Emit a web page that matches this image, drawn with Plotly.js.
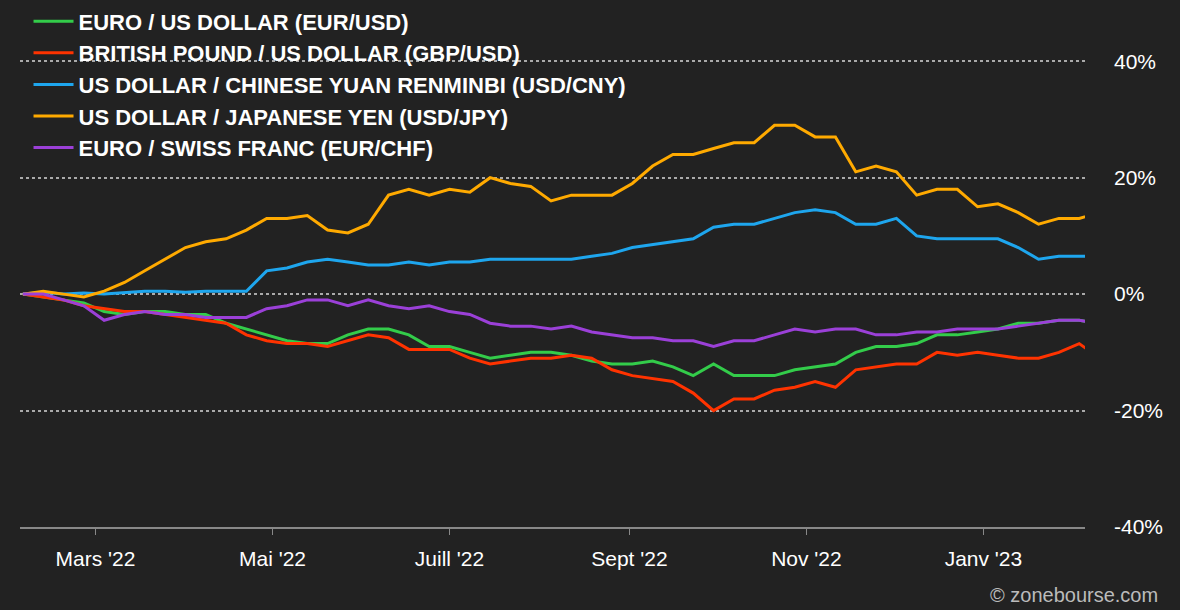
<!DOCTYPE html>
<html><head><meta charset="utf-8">
<script src="https://cdn.plot.ly/plotly-3.0.1.min.js"></script>
<style>body{margin:0;background:#222222}</style>
</head><body><div id="c" style="width:1180px;height:610px"></div>
<script>
const startDate = "2022-02-04";
const seriesNames = ["EURO / US DOLLAR (EUR/USD)","BRITISH POUND / US DOLLAR (GBP/USD)","US DOLLAR / CHINESE YUAN RENMINBI (USD/CNY)","US DOLLAR / JAPANESE YEN (USD/JPY)","EURO / SWISS FRANC (EUR/CHF)"];
const colors = ["#33cc4a","#ff3300","#1ea6ee","#ffaa00","#9b40d8"];
const eurusd = [0,-0.5,-1,-1.5,-3,-3.5,-3,-3,-3.5,-3.5,-5,-6,-7,-8,-8.5,-8.5,-7,-6,-6,-7,-9,-9,-10,-11,-10.5,-10,-10,-10.5,-11.5,-12,-12,-11.5,-12.5,-14,-12,-14,-14,-14,-13,-12.5,-12,-10,-9,-9,-8.5,-7,-7,-6.5,-6,-5,-5,-4.5,-4.5,-5];
const gbpusd = [0,-0.5,-1,-2,-2.5,-3,-3,-3.5,-4,-4.5,-5,-7,-8,-8.5,-8.5,-9,-8,-7,-7.5,-9.5,-9.5,-9.5,-11,-12,-11.5,-11,-11,-10.5,-11,-13,-14,-14.5,-15,-17,-20,-18,-18,-16.5,-16,-15,-16,-13,-12.5,-12,-12,-10,-10.5,-10,-10.5,-11,-11,-10,-8.5,-11];
const usdcny = [0,0.3,0,0.2,0,0.3,0.5,0.5,0.3,0.5,0.5,0.5,4,4.5,5.5,6,5.5,5,5,5.5,5,5.5,5.5,6,6,6,6,6,6.5,7,8,8.5,9,9.5,11.5,12,12,13,14,14.5,14,12,12,13,10,9.5,9.5,9.5,9.5,8,6,6.5,6.5,6.5];
const usdjpy = [0,0.5,0,-0.5,0.5,2,4,6,8,9,9.5,11,13,13,13.5,11,10.5,12,17,18,17,18,17.5,20,19,18.5,16,17,17,17,19,22,24,24,25,26,26,29,29,27,27,21,22,21,17,18,18,15,15.5,14,12,13,13,14];
const eurchf = [0,0,-1,-2,-4.5,-3.5,-3,-3.5,-3.5,-4,-4,-4,-2.5,-2,-1,-1,-2,-1,-2,-2.5,-2,-3,-3.5,-5,-5.5,-5.5,-6,-5.5,-6.5,-7,-7.5,-7.5,-8,-8,-9,-8,-8,-7,-6,-6.5,-6,-6,-7,-7,-6.5,-6.5,-6,-6,-6,-5.5,-5,-4.5,-4.5,-5];
const tickVals = ["2022-03-01","2022-05-01","2022-07-01","2022-09-01","2022-11-01","2023-01-01"];
const tickText = ["Mars '22","Mai '22","Juill '22","Sept '22","Nov '22","Janv '23"];

const dates = eurusd.map((_,i)=>{const d=new Date(startDate+"T00:00:00Z");d.setUTCDate(d.getUTCDate()+7*i);return d.toISOString().slice(0,10);});
const all=[eurusd,gbpusd,usdcny,usdjpy,eurchf];
const traces=all.map((v,i)=>({x:dates,y:v,name:seriesNames[i],type:"scatter",mode:"lines",line:{color:colors[i],width:3}}));
Plotly.newPlot("c",traces,{
  width:1180,height:610,paper_bgcolor:"#222222",plot_bgcolor:"#222222",
  margin:{l:20,r:95,t:0,b:83},
  font:{family:"Liberation Sans, Arial",color:"#ffffff",size:20},
  showlegend:true,
  legend:{x:0.008,y:1.005,xanchor:"left",yanchor:"top",bgcolor:"rgba(0,0,0,0)",font:{size:22,color:"#fff",weight:"bold"},tracegroupgap:0,itemwidth:40},
  xaxis:{range:["2022-02-03","2023-02-05"],tickvals:tickVals,ticktext:tickText,showgrid:false,zeroline:false,showline:true,linecolor:"#888",linewidth:2,ticks:"outside",ticklen:6,tickcolor:"#888",ticklabelstandoff:6,tickfont:{size:21,color:"#fff"}},
  yaxis:{side:"right",range:[-40,50],tickvals:[-40,-20,0,20,40],ticktext:["-40%","-20%","0%","20%","40%"],gridcolor:"#aaaaaa",griddash:"dot",gridwidth:2,zeroline:false,showline:false,ticks:"",ticklabelstandoff:28,tickfont:{size:21,color:"#fff"}},
  annotations:[{text:"© zonebourse.com",xref:"paper",yref:"paper",x:1.07,y:-0.155,xanchor:"right",yanchor:"bottom",showarrow:false,font:{size:20,color:"#bbbbbb"}}]
},{displayModeBar:false});
</script></body></html>
